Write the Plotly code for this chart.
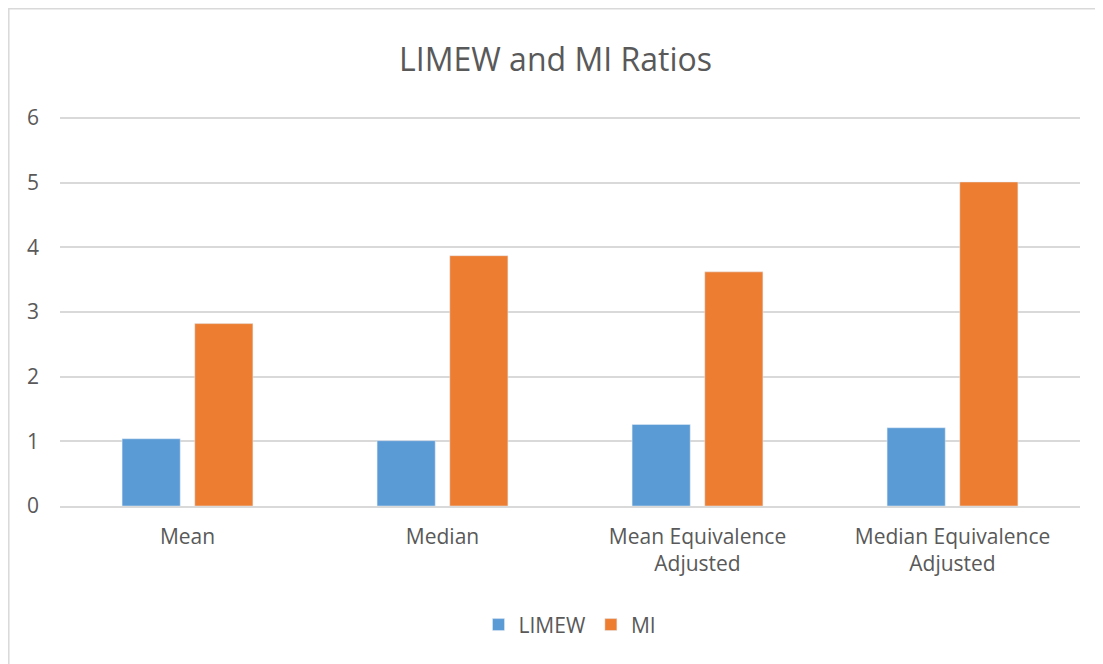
import plotly.graph_objects as go

categorias = ['Mean', 'Median', 'Mean Equivalence<br>Adjusted', 'Median Equivalence<br>Adjusted']
limew = [1.04, 1.01, 1.26, 1.21]
mi = [2.82, 3.87, 3.62, 5.01]

fonte = 'Open Sans'
cinza = '#595959'

fig = go.Figure()
fig.add_trace(go.Bar(x=categorias, y=limew, name='LIMEW', marker_color='#5B9BD5'))
fig.add_trace(go.Bar(x=categorias, y=mi, name='MI', marker_color='#ED7D31'))

# a pagina tem 8px de margem no body
fig.update_layout(
    width=1095,
    height=656,
    paper_bgcolor='white',
    plot_bgcolor='white',
    font=dict(family=fonte, color=cinza, size=21),
    title=dict(text='LIMEW and MI Ratios', x=0.5, xanchor='center', y=0.921, yanchor='middle',
               font=dict(size=32, color=cinza)),
    barmode='group',
    bargap=0.43,
    bargroupgap=0.2,
    margin=dict(l=52, r=23, t=108, b=158),
    legend=dict(orientation='h', x=0.5, xanchor='center', y=-0.305, yanchor='middle',
                font=dict(size=21, color=cinza), itemwidth=30),
    showlegend=True,
)

fig.update_yaxes(range=[0, 6.03], tickvals=[0, 1, 2, 3, 4, 5, 6], showgrid=True,
                 gridcolor='#D9D9D9', gridwidth=1.5,
                 zeroline=False, showline=False, ticks='', ticklabelstandoff=20)
fig.update_xaxes(showline=True, linecolor='#D9D9D9', linewidth=1.5, ticks='',
                 ticklabelstandoff=11)

# borda do grafico
fig.add_shape(type='rect', xref='paper', yref='paper', x0=-0.0502, x1=1.1, y0=-0.5, y1=1.275,
              line=dict(color='#D9D9D9', width=1.5), layer='below')

fig.write_html('out.html')
